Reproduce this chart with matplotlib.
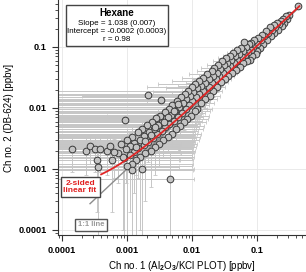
import matplotlib
matplotlib.use("Agg")
import matplotlib.pyplot as plt
import matplotlib.patches as patches
from matplotlib.ticker import LogLocator, FuncFormatter, NullFormatter
import numpy as np

plt.rcParams['font.family'] = 'Liberation Sans'
plt.rcParams['font.weight'] = 'bold'
plt.rcParams['mathtext.fontset'] = 'custom'
plt.rcParams['mathtext.rm'] = 'Liberation Sans:bold'
plt.rcParams['mathtext.default'] = 'rm'

# high concentrations (ppbv), Ch 1 vs Ch 2
hi_x = [0.43, 0.31, 0.29, 0.28, 0.26, 0.25, 0.24, 0.23, 0.22, 0.21, 0.20, 0.19, 0.185, 0.18,
        0.17, 0.165, 0.16, 0.15, 0.145, 0.14, 0.13, 0.125, 0.12, 0.115, 0.11, 0.105, 0.10, 0.10]
hi_y = [0.47, 0.33, 0.29, 0.32, 0.25, 0.29, 0.22, 0.27, 0.24, 0.19, 0.25, 0.21, 0.17, 0.23,
        0.19, 0.15, 0.21, 0.17, 0.13, 0.18, 0.15, 0.11, 0.16, 0.13, 0.095, 0.14, 0.11, 0.085]

# middle range
mid_x = [0.095, 0.09, 0.088, 0.085, 0.082, 0.08, 0.078, 0.075, 0.072, 0.07,
         0.068, 0.066, 0.064, 0.062, 0.06, 0.058, 0.056, 0.054, 0.052, 0.05,
         0.049, 0.047, 0.046, 0.044, 0.043, 0.041, 0.04, 0.039, 0.038, 0.036,
         0.035, 0.034, 0.033, 0.032, 0.031, 0.03, 0.029, 0.028, 0.027, 0.026,
         0.025, 0.024, 0.024, 0.023, 0.022, 0.021, 0.021, 0.02, 0.02, 0.019,
         0.018, 0.018, 0.017, 0.016, 0.016, 0.015, 0.015, 0.014, 0.014, 0.013,
         0.013, 0.012, 0.012, 0.0115, 0.011, 0.011, 0.0105, 0.01, 0.01]
mid_y = [0.078, 0.13, 0.10, 0.072, 0.115, 0.09, 0.062, 0.11, 0.082, 0.058,
         0.10, 0.075, 0.12, 0.055, 0.085, 0.068, 0.098, 0.047, 0.078, 0.062,
         0.09, 0.042, 0.07, 0.055, 0.08, 0.038, 0.062, 0.048, 0.072, 0.034,
         0.055, 0.043, 0.065, 0.03, 0.05, 0.038, 0.058, 0.027, 0.044, 0.034,
         0.05, 0.022, 0.038, 0.03, 0.045, 0.019, 0.034, 0.026, 0.04, 0.016,
         0.03, 0.022, 0.036, 0.014, 0.026, 0.019, 0.031, 0.012, 0.023, 0.017,
         0.028, 0.0098, 0.021, 0.015, 0.025, 0.0088, 0.018, 0.013, 0.022]

# low range
low_x = [0.0095, 0.0092, 0.009, 0.0088, 0.0085, 0.0082, 0.008, 0.0078, 0.0075, 0.0072,
         0.007, 0.0068, 0.0065, 0.0063, 0.006, 0.0058, 0.0056, 0.0054, 0.0052, 0.005,
         0.0049, 0.0047, 0.0045, 0.0044, 0.0042, 0.004, 0.0039, 0.0038, 0.0036, 0.0035,
         0.0034, 0.0032, 0.0031, 0.003, 0.0029, 0.0028, 0.0027, 0.0026, 0.0025, 0.0024,
         0.0023, 0.0022, 0.0021, 0.002, 0.0019, 0.0018, 0.0018, 0.0017, 0.0016, 0.0016,
         0.0015, 0.0015, 0.0014, 0.0013, 0.0013, 0.0012, 0.0012, 0.0011, 0.0011, 0.001,
         0.001, 0.00095, 0.0009, 0.00087, 0.0017, 0.0012, 0.0062, 0.0053, 0.0043, 0.0037,
         0.0027, 0.0023, 0.0019, 0.0014]
low_y = [0.0075, 0.016, 0.011, 0.019, 0.0065, 0.014, 0.0095, 0.017, 0.0058, 0.012,
         0.0082, 0.015, 0.005, 0.0105, 0.0072, 0.013, 0.0045, 0.009, 0.0062, 0.011,
         0.0038, 0.0078, 0.0055, 0.0095, 0.0034, 0.0068, 0.0048, 0.0085, 0.003, 0.006,
         0.0042, 0.0075, 0.0026, 0.0052, 0.0037, 0.0068, 0.0023, 0.0046, 0.0032, 0.006,
         0.002, 0.004, 0.0028, 0.0052, 0.0018, 0.0035, 0.0025, 0.0046, 0.0016, 0.003,
         0.0022, 0.004, 0.0014, 0.0027, 0.0019, 0.0034, 0.0012, 0.0024, 0.0017, 0.003,
         0.0011, 0.0021, 0.0015, 0.0016, 0.001, 0.00096, 0.0115, 0.0088, 0.0072, 0.0058,
         0.0049, 0.0036, 0.0029, 0.0023]

# scattered low values and outliers
sparse_x = [0.000143, 0.00023, 0.00027, 0.00032, 0.00038, 0.0005, 0.00035, 0.00036, 0.00059,
            0.00073, 0.00055, 0.00062, 0.00082, 0.00093, 0.0021, 0.0033, 0.0046]
sparse_y = [0.0021, 0.002, 0.0024, 0.0021, 0.0021, 0.002, 0.0014, 0.00108, 0.0014,
            0.0018, 0.0024, 0.0019, 0.0026, 0.0064, 0.0163, 0.0135, 0.00069]

# uncertainties per group (ppbv): x, y
group_unc = [(0.01, 0.01), (0.008, 0.004), (0.009, 0.0015), (0.006, 0.0012)]

# fit line as drawn, and 1:1 line range
fit_slope = 1.038
fit_offset = 0.0004
fit_range = [0.0004, 0.45]
one_to_one_range = [0.00027, 0.45]

fig = plt.figure(figsize=(3.06, 2.72), dpi=100)
ax = fig.add_axes([58 / 306, 1 - 235 / 272, 248 / 306, 235 / 272])
ax.set_xscale('log')
ax.set_yscale('log')
ax.set_xlim(10 ** -4.0615, 10 ** -0.246)
ax.set_ylim(10 ** -4.082, 10 ** -0.23)

groups = [(hi_x, hi_y), (mid_x, mid_y), (low_x, low_y), (sparse_x, sparse_y)]
for (gx, gy), (ux, uy) in zip(groups, group_unc):
    ax.errorbar(gx, gy, xerr=ux, yerr=uy, fmt='none', ecolor='#c6c6c6',
                elinewidth=0.7, capsize=1.3, capthick=0.6, zorder=1)

ax.plot(one_to_one_range, one_to_one_range, color='#8c8c8c', lw=1.0, zorder=2)

for gx, gy in groups:
    ax.plot(gx, gy, 'o', ms=4.8, mfc='#c4c4c4', mec='#3a3a3a', mew=0.7, zorder=3)

fx = np.geomspace(fit_range[0], fit_range[1], 200)
ax.plot(fx, fit_slope * fx + fit_offset, color='#e02626', lw=1.3, zorder=4)

# axes styling
for s in ['top', 'right']:
    ax.spines[s].set_visible(False)
for s in ['left', 'bottom']:
    ax.spines[s].set_color('#333333')
    ax.spines[s].set_linewidth(0.8)
fmt = FuncFormatter(lambda v, p: '{:g}'.format(v))
for axis in [ax.xaxis, ax.yaxis]:
    axis.set_major_locator(LogLocator(base=10, numticks=10))
    axis.set_minor_locator(LogLocator(base=10, subs=np.arange(2, 10), numticks=20))
    axis.set_major_formatter(fmt)
    axis.set_minor_formatter(NullFormatter())
ax.tick_params(which='major', direction='out', length=4, width=0.8, color='#333333',
               labelsize=6.6, pad=4)
ax.tick_params(which='minor', direction='out', length=2, width=0.6, color='#333333')
ax.grid(True, which='major', color='#e6e6e6', lw=0.6)
ax.set_axisbelow(True)

ax.set_xlabel('Ch no. 1 (Al$_2$O$_3$/KCl PLOT) [ppbv]', fontsize=7, labelpad=3)
ax.set_ylabel('Ch no. 2 (DB-624) [ppbv]', fontsize=7, labelpad=3)

# stats box
ax.add_patch(patches.Rectangle((0.032, 0.804), 0.412, 0.175, transform=ax.transAxes,
                               fc='white', ec='#444444', lw=1.0, zorder=5))
ax.text(0.238, 0.945, 'Hexane', transform=ax.transAxes, ha='center', va='center',
        fontsize=7, fontweight='bold', zorder=6)
ax.text(0.238, 0.902, 'Slope = 1.038 (0.007)', transform=ax.transAxes, ha='center',
        va='center', fontsize=5.8, fontweight='normal', zorder=6)
ax.text(0.238, 0.866, 'Intercept = -0.0002 (0.0003)', transform=ax.transAxes, ha='center',
        va='center', fontsize=5.8, fontweight='normal', zorder=6)
ax.text(0.238, 0.830, 'r = 0.98', transform=ax.transAxes, ha='center', va='center',
        fontsize=5.8, fontweight='normal', zorder=6)

ax.text(0.089, 0.204, '2-sided\nlinear fit', transform=ax.transAxes, ha='center', va='center',
        fontsize=6, color='#e02020', linespacing=1.1, zorder=6,
        bbox=dict(boxstyle='square,pad=0.35', fc='white', ec='#444444', lw=1.0))
ax.text(0.133, 0.043, '1:1 line', transform=ax.transAxes, ha='center', va='center',
        fontsize=5.5, color='#9a9a9a', zorder=6,
        bbox=dict(boxstyle='square,pad=0.35', fc='white', ec='#555555', lw=1.0))

fig.savefig('out.png', dpi=100)
